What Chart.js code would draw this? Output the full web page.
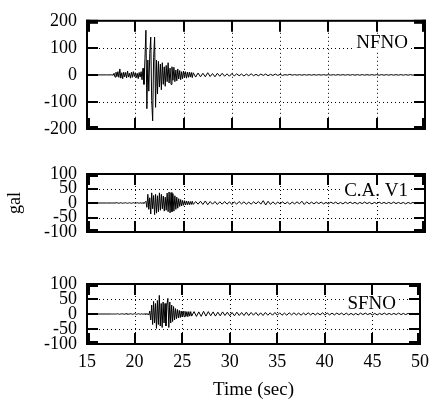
<!DOCTYPE html>
<html>
<head>
<meta charset="utf-8">
<script src="https://cdn.jsdelivr.net/npm/chart.js@4"></script>
<style>
  html, body { margin: 0; padding: 0; background: #fff; overflow: hidden; }
  #wrap { position: relative; width: 436px; height: 402px; }
  #wrap canvas { position: absolute; left: 0; top: 0; }
</style>
</head>
<body>
<div id="wrap">
  <canvas id="nfno" width="436" height="402"></canvas>
  <canvas id="cav1" width="436" height="402"></canvas>
  <canvas id="sfno" width="436" height="402"></canvas>
</div>
<script>
/* ---- data ---- */
const xTicks = [15, 20, 25, 30, 35, 40, 45, 50];
const nfnoTicks = [-200, -100, 0, 100, 200];
const smallTicks = [-100, -50, 0, 50, 100];

// sample times (sec)
const times = [
  15, 16, 17,
  17.5, 17.6, 17.7, 17.8, 17.9,
  18, 18.1, 18.2, 18.3, 18.4, 18.5, 18.6, 18.7, 18.8, 18.9,
  19, 19.1, 19.2, 19.3, 19.4, 19.5, 19.6, 19.7, 19.8, 19.9,
  20, 20.1, 20.2, 20.3, 20.4, 20.5, 20.6, 20.7, 20.8, 20.9,
  21, 21.1, 21.2, 21.3, 21.4, 21.5, 21.6, 21.7, 21.8, 21.9,
  22, 22.1, 22.2, 22.3, 22.4, 22.5, 22.6, 22.7, 22.8, 22.9,
  23, 23.1, 23.2, 23.3, 23.4, 23.5, 23.6, 23.7, 23.8, 23.9,
  24, 24.1, 24.2, 24.3, 24.4, 24.5, 24.6, 24.7, 24.8, 24.9,
  25, 25.1, 25.2, 25.3, 25.4, 25.5, 25.6, 25.7, 25.8, 25.9,
  26,
  26.25, 26.5, 26.75, 27,
  27.25, 27.5, 27.75, 28,
  28.25, 28.5, 28.75, 29,
  29.25, 29.5, 29.75, 30,
  30.25, 30.5, 30.75, 31,
  31.25, 31.5, 31.75, 32,
  32.25, 32.5, 32.75, 33,
  33.25, 33.5, 33.75, 34,
  34.25, 34.5, 34.75, 35,
  35.25, 35.5, 35.75, 36,
  36.25, 36.5, 36.75, 37,
  37.25, 37.5, 37.75, 38,
  38.25, 38.5, 38.75, 39,
  39.25, 39.5, 39.75, 40,
  40.25, 40.5, 40.75, 41,
  41.25, 41.5, 41.75, 42,
  42.25, 42.5, 42.75, 43,
  43.25, 43.5, 43.75, 44,
  44.25, 44.5, 44.75, 45,
  45.25, 45.5, 45.75, 46,
  46.25, 46.5, 46.75, 47,
  47.25, 47.5, 47.75, 48,
  48.25, 48.5, 48.75, 49,
  49.25, 49.5, 49.75, 50
];

// NFNO (gal)
const nfnoValues = [
  0, 0, 0,
  0, 1, -2, 6, -8,
  10, -6, 12, -9, 22, -12, 8, -14, 10, -7,
  9, -11, 14, -8, 6, -12, 10, -9, 12, -6,
  8, -10, 6, -14, 9, -8, 12, -18, 25, -35,
  60, 165, -125, 55, -60, 80, 140, -95, -170, 65,
  140, -120, 55, -70, 50, -45, 40, -55, 45, -35,
  30, -42, 35, -25, 45, -30, 25, -35, 30, -20,
  28, -25, 18, -22, 22, -15, 16, -18, 12, -14,
  14, -10, 12, -12, 10, -9, 10, -8, 9, -10,
  8,
  -8, 7, -7, 6,
  -7, 8, -6, 5,
  -7, 6, -5, 6,
  -5, 4, -5, 5,
  -4, 4, -3, 3,
  -4, 3, -3, 4,
  -3, 2, -3, 3,
  -2, 3, -3, 2,
  -2, 3, -2, 2,
  -2, 1, -1, 2,
  -1, 1, -1, 1,
  -1, 1, -1, 1,
  -1, 1, -1, 1,
  -1, 1, -1, 1,
  -1, 1, -1, 1,
  -1, 1, -1, 1,
  -1, 1, -1, 1,
  -1, 1, -1, 1,
  -1, 1, -1, 1,
  -1, 1, -1, 1,
  -1, 1, -1, 1,
  -1, 1, -1, 1,
  -1, 1, -1, 1,
  -1, 1, -1, 0
];

// C.A. V1 (gal)
const cav1Values = [
  0, 0, 0,
  0, 0, 0, 0, 0,
  0, 1, 0, -1, 0, 1, 0, -1, 0, 0,
  1, 0, -1, 0, 1, 0, -1, 0, 1, 0,
  -1, 0, 1, 0, -1, 1, 0, -1, 1, -1,
  2, 6, -15, 30, -22, 18, -38, 35, -20, 26,
  -40, 30, -35, 25, -30, 35, -25, 30, -20, 24,
  -28, 20, -25, 34, -30, 38, -34, 36, -30, 32,
  -28, 25, -22, 20, -18, 15, -12, 12, -10, 9,
  -8, 8, -7, 7, -6, 6, -6, 5, -5, 6,
  -5,
  5, -4, 6, -5,
  7, -6, 5, -4,
  5, -5, 4, -4,
  5, -4, 4, -5,
  4, -4, 5, -3,
  4, -4, 3, -4,
  4, -3, 5, -4,
  8, -7, 6, -5,
  4, -4, 3, -3,
  4, -3, 3, -4,
  3, -3, 4, -3,
  6, -5, 4, -3,
  3, -3, 3, -2,
  3, -3, 2, -3,
  3, -2, 3, -3,
  2, -3, 3, -2,
  3, -2, 2, -3,
  2, -2, 3, -2,
  2, -3, 2, -2,
  3, -2, 2, -2,
  2, -2, 3, -2,
  2, -2, 2, -3,
  2, -2, 2, -2,
  2, -2, 2, 0
];

// SFNO (gal)
const sfnoValues = [
  0, 0, 0,
  0, 0, 0, 0, 0,
  0, 0, 1, 0, -1, 0, 0, 1, 0, -1,
  0, 1, 0, -1, 0, 0, 1, 0, -1, 0,
  1, 0, -1, 0, 1, 0, -1, 1, 0, -1,
  1, -1, 2, -2, 1, -3, 10, -20, 30, -35,
  42, -30, 35, -48, 45, -35, 62, -40, 35, -45,
  40, -30, 35, -40, 30, 52, -45, 40, -30, 30,
  -25, 25, -20, 18, -16, 15, -13, 12, -12, 10,
  -10, 10, -9, 9, -8, 8, -9, 8, -7, 8,
  -7,
  8, -8, 7, -8,
  9, -7, 8, -6,
  7, -7, 6, -6,
  7, -5, 6, -6,
  5, -6, 6, -5,
  5, -5, 6, -5,
  5, -4, 5, -5,
  4, -5, 5, -4,
  4, -4, 5, -4,
  4, -4, 3, -4,
  4, -3, 4, -3,
  3, -4, 3, -3,
  4, -3, 3, -3,
  3, -3, 4, -3,
  3, -3, 3, -3,
  3, -2, 3, -3,
  3, -3, 2, -3,
  2, -3, 3, -2,
  3, -2, 2, -3,
  2, -3, 2, -2,
  3, -2, 2, -2,
  2, -2, 3, -2,
  2, -2, 2, -2,
  2, -2, 2, 0
];

/* ---- look ---- */
const serif = '"Liberation Serif", "DejaVu Serif", serif';
const tickFont = { family: serif, size: 18 };
const titleFont = { family: serif, size: 19 };
Chart.defaults.color = '#000';

// dotted grid, heavy frame, inward ticks and the station name box
const panelFrame = {
  id: 'panelFrame',
  beforeDatasetsDraw(chart, args, o) {
    const { ctx, chartArea: a, scales: { x, y } } = chart;
    ctx.save();
    ctx.strokeStyle = '#000';
    ctx.lineWidth = 1;
    ctx.setLineDash([1, 3]);
    ctx.beginPath();
    xTicks.slice(1, -1).forEach(v => {
      const px = Math.round(x.getPixelForValue(v)) + 0.5;
      ctx.moveTo(px, a.top);
      ctx.lineTo(px, a.bottom);
    });
    o.ticks.slice(1, -1).forEach(v => {
      if (v === 0) return;
      const py = Math.round(y.getPixelForValue(v)) + 0.5;
      ctx.moveTo(a.left, py);
      ctx.lineTo(a.right, py);
    });
    ctx.stroke();
    ctx.restore();
  },
  afterDatasetsDraw(chart, args, o) {
    const { ctx, chartArea: a, scales: { x, y } } = chart;
    ctx.save();

    // station label on a white patch
    ctx.font = '19px ' + serif;
    const w = ctx.measureText(o.label).width;
    const tx = a.right - o.dx, ty = a.top + o.dy;
    ctx.fillStyle = '#fff';
    ctx.fillRect(tx - w - 3, ty - 8, w + 6, 16);
    ctx.fillStyle = '#000';
    ctx.textAlign = 'right';
    ctx.textBaseline = 'middle';
    ctx.fillText(o.label, tx, ty + 1);

    // frame
    ctx.strokeStyle = '#000';
    ctx.lineWidth = 2;
    ctx.strokeRect(a.left, a.top, a.right - a.left, a.bottom - a.top);

    // inward ticks
    const len = 11;
    ctx.beginPath();
    xTicks.slice(1, -1).forEach(v => {
      const px = Math.round(x.getPixelForValue(v));
      ctx.moveTo(px, a.top); ctx.lineTo(px, a.top + len);
      ctx.moveTo(px, a.bottom); ctx.lineTo(px, a.bottom - len);
    });
    o.ticks.slice(1, -1).forEach(v => {
      const py = Math.round(y.getPixelForValue(v));
      ctx.moveTo(a.left, py); ctx.lineTo(a.left + len, py);
      ctx.moveTo(a.right, py); ctx.lineTo(a.right - len, py);
    });
    ctx.stroke();

    // heavy corners
    ctx.fillStyle = '#000';
    const c = 12, t = 4;
    ctx.fillRect(a.left - 1, a.top - 1, c, t);
    ctx.fillRect(a.left - 1, a.top - 1, t, c);
    ctx.fillRect(a.left - 1, a.bottom - t + 1, c, t);
    ctx.fillRect(a.left - 1, a.bottom - c + 1, t, c);
    ctx.fillRect(a.right - c + 1, a.top - 1, c, t);
    ctx.fillRect(a.right - t + 1, a.top - 1, t, c);
    ctx.fillRect(a.right - c + 1, a.bottom - t + 1, c, t);
    ctx.fillRect(a.right - t + 1, a.bottom - c + 1, t, c);
    ctx.restore();
  }
};

function buildPanel(canvasId, values, yTicks, box, showX, showYTitle) {
  const xScale = {
    type: 'linear',
    min: 15,
    max: 50,
    display: showX,
    afterBuildTicks: s => { s.ticks = xTicks.map(v => ({ value: v })); },
    grid: { display: false, drawTicks: false },
    border: { display: false },
    ticks: { padding: 7, font: tickFont, maxRotation: 0, autoSkip: false },
    title: { display: true, text: 'Time (sec)', font: titleFont, padding: { top: 0, bottom: 1 } }
  };
  if (showX) xScale.afterFit = s => { s.height = 58; };

  return new Chart(document.getElementById(canvasId), {
    type: 'line',
    data: {
      datasets: [{
        data: times.map((t, i) => ({ x: t, y: values[i] })),
        borderColor: '#000',
        borderWidth: 1,
        pointRadius: 0,
        tension: 0,
        fill: false
      }]
    },
    options: {
      responsive: false,
      animation: false,
      events: [],
      layout: { padding: { top: box.top, bottom: box.bottom, left: 0, right: 11 } },
      plugins: {
        legend: { display: false },
        tooltip: { enabled: false },
        panelFrame: { label: box.label, dx: box.dx, dy: box.dy, ticks: yTicks }
      },
      scales: {
        x: xScale,
        y: {
          min: yTicks[0],
          max: yTicks[yTicks.length - 1],
          afterBuildTicks: s => { s.ticks = yTicks.map(v => ({ value: v })); },
          afterFit: s => { s.width = 87; },
          grid: { display: false, drawTicks: false },
          border: { display: false },
          ticks: { padding: 10, font: tickFont, autoSkip: false },
          title: { display: showYTitle, text: 'gal', font: tickFont, padding: { top: 4, bottom: 0 } }
        }
      }
    },
    plugins: [panelFrame]
  });
}

buildPanel('nfno', nfnoValues, nfnoTicks, { top: 12, bottom: 273, label: 'NFNO', dx: 17, dy: 21 }, false, false);
buildPanel('cav1', cav1Values, smallTicks, { top: 174, bottom: 170, label: 'C.A. V1', dx: 17, dy: 16 }, false, true);
buildPanel('sfno', sfnoValues, smallTicks, { top: 284, bottom: 0, label: 'SFNO', dx: 24, dy: 19 }, true, false);
</script>
</body>
</html>
